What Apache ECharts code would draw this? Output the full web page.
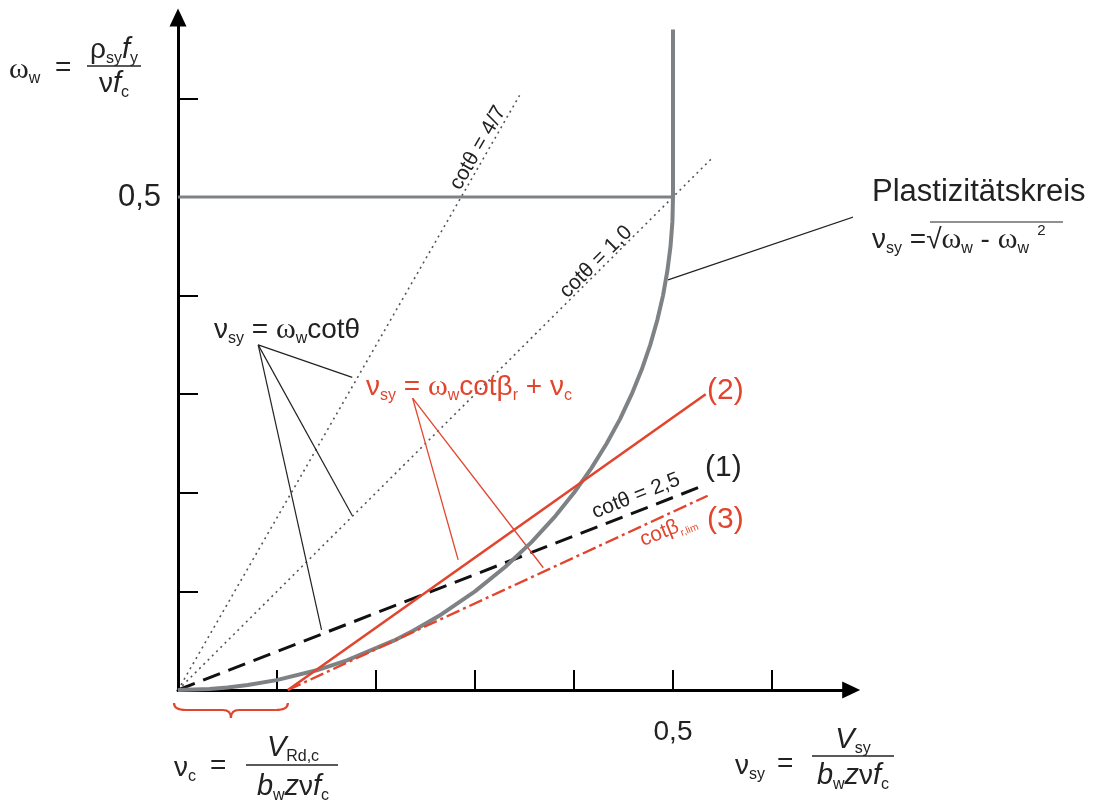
<!DOCTYPE html>
<html><head><meta charset="utf-8">
<script src="https://cdn.jsdelivr.net/npm/echarts@6/dist/echarts.min.js"></script>
<style>html,body{margin:0;padding:0;background:#fff}#c{width:1095px;height:803px}</style>
</head><body><div id="c"></div>
<script>
// ---- data ----
const xTicks = [0.1, 0.2, 0.3, 0.4, 0.5, 0.6];
const yTicks = [0.1, 0.2, 0.3, 0.4, 0.5, 0.6];
const labelTicks = [0.5];
const tickLabelText = { '0.5': '0,5' };
// plastic circle: omega_w vs nu_sy
const circleW = [0, 0.001, 0.0025, 0.005, 0.01, 0.02, 0.03, 0.05, 0.06, 0.075, 0.1, 0.125, 0.15, 0.175, 0.2, 0.225, 0.25, 0.275, 0.3, 0.325, 0.35, 0.375, 0.4, 0.425, 0.45, 0.475, 0.5, 0.67];
const circleV = [0, 0.0316, 0.05, 0.0705, 0.0995, 0.14, 0.1706, 0.2179, 0.2375, 0.2634, 0.3, 0.3307, 0.3571, 0.38, 0.4, 0.4176, 0.433, 0.4466, 0.4583, 0.4684, 0.477, 0.4841, 0.4899, 0.4943, 0.4975, 0.4994, 0.5, 0.5];
const capLineV = [0, 0.5];
const capLineW = [0.5, 0.5];
const cot47V = [0, 0.345];  const cot47W = [0, 0.603];
const cot10V = [0, 0.54];   const cot10W = [0, 0.54];
const cot25V = [0, 0.53];   const cot25W = [0, 0.207];
const red2V = [0.111, 0.533]; const red2W = [0, 0.30];
const red3V = [0.111, 0.535]; const red3W = [0, 0.197];
const nuC = 0.111;
// leader lines: apex -> targets
const blackApex = [0.081, 0.35];
const blackTargets = [[0.176, 0.317], [0.176, 0.177], [0.145, 0.061]];
const redApex = [0.237, 0.296];
const redTargets = [[0.283, 0.132], [0.369, 0.124]];
const circleLeader = [[0.495, 0.416], [0.689, 0.482]];

const RED = '#e2452d', GREY = '#7e8285', INK = '#222';
const FONT = "'Liberation Sans', Arial, sans-serif";

function pts(vs, ws) { return vs.map((v, i) => [v, ws[i]]); }

const series = [];
function addLine(data, color, width, type, z) {
  series.push({ type: 'line', data: data, symbol: 'none', silent: true, clip: false, z: z || 2,
    lineStyle: { color: color, width: width, type: type || 'solid', cap: 'butt' } });
}
addLine(pts(circleV, circleW), GREY, 4, 'solid', 3);
addLine(pts(capLineV, capLineW), GREY, 3, 'solid', 3);
addLine(pts(cot47V, cot47W), '#555', 1.6, [2, 4]);
addLine(pts(cot10V, cot10W), '#555', 1.6, [2, 4]);
addLine(pts(cot25V, cot25W), '#111', 3, [18, 9]);
addLine(pts(red2V, red2W), RED, 2.6, 'solid', 4);
addLine(pts(red3V, red3W), RED, 2.4, [14, 4, 3, 4], 4);
blackTargets.forEach(t => addLine([blackApex, t], '#222', 1.2));
redTargets.forEach(t => addLine([redApex, t], RED, 1.3));
addLine(circleLeader, '#222', 1.2);

const rich = {
  m: { fontSize: 28, fontFamily: FONT, lineHeight: 34 },
  g: { fontSize: 30, fontFamily: "'Liberation Serif', serif", lineHeight: 34 },
  s: { fontSize: 16, fontFamily: FONT, verticalAlign: 'bottom', lineHeight: 20 },
  p: { fontSize: 15, fontFamily: FONT, verticalAlign: 'top', lineHeight: 14 },
  i: { fontSize: 29, fontFamily: FONT, fontStyle: 'italic', lineHeight: 34 },
  b: { fontSize: 31, fontFamily: FONT, lineHeight: 38 },
  n: { fontSize: 30, fontFamily: FONT, lineHeight: 36 },
  r: { fontSize: 21, fontFamily: FONT, lineHeight: 24 },
  rr: { fontSize: 21, fontFamily: FONT, lineHeight: 26 },
  rs: { fontSize: 10, fontFamily: FONT, verticalAlign: 'bottom', lineHeight: 14 }
};
function rt(x, y, text, color, align, extra) {
  return Object.assign({ type: 'text', x: x, y: y, silent: true, z: 10,
    style: { text: text, rich: rich, fill: color || INK, align: align || 'left', verticalAlign: 'middle', font: '28px ' + FONT } }, extra || {});
}
function seg(x0, y0, x1, y1, color, w) {
  return { type: 'line', silent: true, z: 10, shape: { x1: x0, y1: y0, x2: x1, y2: y1 }, style: { stroke: color || INK, lineWidth: w || 1.3 } };
}

const graphics = [
  // omega_w = rho_sy f_y / nu f_c
  rt(9, 70, '{g|ω}{s|w}'),
  rt(55, 68, '{m|=}'),
  rt(114, 50, '{m|ρ}{s|sy}{i|f}{s|y}', INK, 'center'),
  seg(87, 66, 141, 66),
  rt(114, 84, '{m|ν}{i|f}{s|c}', INK, 'center'),
  // Plastizitätskreis
  rt(872, 192, '{b|Plastizitätskreis}'),
  rt(872, 240, '{m|ν}{s|sy}{m| =√}{g|ω}{s|w}{m| - }{g|ω}{s|w}{p|  2}'),
  seg(930, 222, 1063, 222, INK, 1.2),
  // nu_sy = omega_w cot theta
  rt(214, 330, '{m|ν}{s|sy}{m| = }{g|ω}{s|w}{m|cotθ}'),
  // red formula
  rt(366, 387, '{m|ν}{s|sy}{m| = }{g|ω}{s|w}{m|cotβ}{s|r}{m| + ν}{s|c}', RED),
  // curve numbers
  rt(707, 391, '{n|(2)}', RED),
  rt(705, 468, '{n|(1)}', INK),
  rt(707, 520, '{n|(3)}', RED),
  // rotated labels
  rt(478, 148, '{r|cotθ = 4/7}', INK, 'center', { rotation: 60.1 * Math.PI / 180 }),
  rt(596, 262, '{r|cotθ = 1,0}', INK, 'center', { rotation: 44.9 * Math.PI / 180 }),
  rt(636, 496, '{r|cotθ = 2,5}', INK, 'center', { rotation: 21.7 * Math.PI / 180 }),
  rt(668, 530, '{rr|cotβ}{rs|r,lim}', RED, 'center', { rotation: 22 * Math.PI / 180 }),
  // nu_sy = V_sy / (b_w z nu f_c)
  rt(735, 766, '{m|ν}{s|sy}'),
  rt(777, 764, '{m|=}'),
  rt(853, 740, '{i|V}{s|sy}', INK, 'center'),
  seg(812, 756, 894, 756),
  rt(853, 776, '{i|b}{s|w}{i|z}{m|ν}{i|f}{s|c}', INK, 'center'),
  // nu_c = V_Rd,c / (b_w z nu f_c)
  rt(174, 768, '{m|ν}{s|c}'),
  rt(210, 766, '{m|=}'),
  rt(293, 748, '{i|V}{s|Rd,c}', INK, 'center'),
  seg(246, 765, 338, 765),
  rt(293, 787, '{i|b}{s|w}{i|z}{m|ν}{i|f}{s|c}', INK, 'center')
];

function fmt(v) { return tickLabelText[String(Math.round(v * 10) / 10)] || ''; }
function makeAxis(ticks, max, margin, fs) {
  return {
    type: 'value', interval: 0.1, min: 0, max: max,
    splitLine: { show: false },
    axisLine: { show: true, symbol: ['none', 'triangle'], symbolSize: [17, 18], symbolOffset: [0, 0], lineStyle: { color: '#000', width: 3 } },
    axisTick: { show: true, inside: true, length: 20, customValues: ticks, lineStyle: { color: '#000', width: 2 } },
    axisLabel: { show: true, color: INK, fontFamily: FONT, fontSize: fs, margin: margin, customValues: labelTicks, formatter: fmt }
  };
}

const chart = echarts.init(document.getElementById('c'), null, { renderer: 'canvas' });
chart.setOption({
  animation: false,
  backgroundColor: '#fff',
  grid: { left: 178, top: 690 - 0.682 * 986, width: 0.68 * 990, height: 0.682 * 986, containLabel: false },
  xAxis: makeAxis(xTicks, 0.68, 28, 28),
  yAxis: makeAxis(yTicks, 0.682, 17, 31),
  series: series,
  graphic: graphics
});
// brace under x axis spanning nu_c
const p0 = chart.convertToPixel({ gridIndex: 0 }, [0, 0]);
const p1 = chart.convertToPixel({ gridIndex: 0 }, [nuC, 0]);
const bx0 = p0[0] - 4, bx1 = p1[0], by = p0[1] + 13, mid = (bx0 + bx1) / 2, h = 7;
function bez(x1, y1, cx, cy, x2, y2) {
  return { type: 'bezierCurve', silent: true, z: 10, shape: { x1: x1, y1: y1, cpx1: cx, cpy1: cy, x2: x2, y2: y2 }, style: { stroke: RED, lineWidth: 2.2, fill: null } };
}
const brace = [
  bez(bx0, by, bx0, by + h, bx0 + 12, by + h),
  seg(bx0 + 12, by + h, mid - 8, by + h, RED, 2.2),
  bez(mid - 8, by + h, mid, by + h, mid, by + h + 8),
  bez(mid, by + h + 8, mid, by + h, mid + 8, by + h),
  seg(mid + 8, by + h, bx1 - 12, by + h, RED, 2.2),
  bez(bx1 - 12, by + h, bx1, by + h, bx1, by)
];
chart.setOption({ graphic: graphics.concat(brace) });
</script></body></html>
